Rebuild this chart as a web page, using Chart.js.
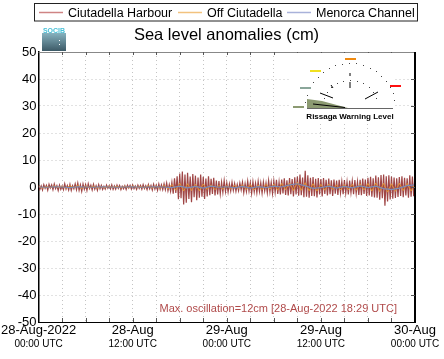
<!DOCTYPE html>
<html><head><meta charset="utf-8">
<script src="https://cdn.jsdelivr.net/npm/chart.js@4"></script>
<style>html,body{margin:0;padding:0;background:#fff;}canvas{display:block;}</style>
</head><body>
<canvas id="c" width="444" height="359"></canvas>
<script>
// ---------- data ----------
const seriesNames = ['Ciutadella Harbour', 'Off Ciutadella', 'Menorca Channel'];
const tickHours = [0, 12, 24, 36, 48];
const dateLabels = ['28-Aug-2022', '28-Aug', '29-Aug', '29-Aug', '30-Aug'];
const timeLabels = ['00:00 UTC', '12:00 UTC', '00:00 UTC', '12:00 UTC', '00:00 UTC'];
const titleText = 'Sea level anomalies (cm)';
const noteText = 'Max. oscillation=12cm [28-Aug-2022 18:29 UTC]';
const insetText = 'Rissaga Warning Level';

// hours since 28-Aug-2022 00:00 UTC, sampled every 10 min (one row = one hour)
const harbourStep = 1 / 6;
const harbour = [
 0.7,-0.9,0.4,-1.1,0.9,-0.5,  0.6,-1.2,1.0,-0.4,0.8,-1.0,  1.1,-0.6,0.5,-1.3,0.7,-0.9,
 0.4,-1.0,1.2,-0.8,0.6,-1.1,  1.0,-1.3,0.5,-0.7,1.2,-1.0,  1.5,-1.2,0.8,-1.6,1.1,-0.9,
 0.9,-1.3,1.2,-0.6,0.7,-1.1,  1.0,-0.8,0.5,-1.2,0.9,-0.7,  0.6,-0.9,0.3,-0.8,0.7,-0.5,
 0.5,-0.7,0.8,-0.9,0.4,-0.8,  0.7,-0.5,0.6,-1.0,0.3,-0.7,  0.5,-0.9,0.7,-0.4,0.6,-0.8,
 0.8,-0.6,0.4,-0.9,0.7,-0.5,  0.6,-0.8,0.9,-0.6,0.5,-1.0,  0.9,-0.7,0.6,-1.1,1.0,-0.8,
 0.7,-1.2,1.1,-0.9,0.8,-1.0,  1.2,-1.0,1.5,-1.4,0.9,-1.6,  1.8,-2.5,3.2,-2.2,4.0,-4.5,
 5.0,-4.2,5.7,-6.5,4.6,-5.8,  5.3,-4.4,3.9,-5.6,4.8,-3.8,  4.2,-4.9,3.5,-4.0,4.6,-3.6,
 3.8,-4.4,3.1,-3.5,4.0,-3.0,  3.0,-2.6,3.4,-3.1,2.4,-2.8,  2.2,-2.6,1.8,-2.0,2.4,-1.7,
 1.6,-1.9,1.2,-1.5,1.8,-1.3,  1.3,-1.6,1.0,-1.4,1.5,-1.1,  1.8,-2.1,1.3,-1.7,2.2,-1.5,
 1.6,-2.4,2.0,-1.8,1.4,-2.2,  2.1,-1.7,1.6,-2.3,1.9,-1.5,  1.5,-2.2,2.4,-1.9,1.7,-2.5,
 2.3,-2.0,2.7,-2.6,1.9,-2.8,  2.8,-2.4,3.2,-2.9,2.5,-3.1,  3.3,-2.7,2.9,-3.5,3.6,-2.8,
 3.9,-3.2,4.6,-3.0,3.5,-3.8,  6.0,-3.6,4.3,-4.0,3.4,-3.3,  3.7,-3.4,3.0,-3.9,3.3,-2.8,
 2.9,-3.5,3.3,-2.6,2.7,-3.1,  3.1,-2.7,2.5,-3.3,2.8,-2.5,  2.4,-2.9,2.7,-2.2,2.1,-2.7,
 2.6,-2.3,2.0,-2.8,2.4,-2.1,  2.2,-2.7,2.6,-2.4,2.0,-2.9,  2.7,-3.0,3.1,-2.6,2.8,-3.3,
 3.4,-3.1,3.8,-3.6,3.2,-3.9,  4.2,-4.0,3.6,-4.7,4.4,-4.2,  4.6,-6.9,4.0,-5.4,4.3,-4.6,
 3.9,-4.3,3.5,-4.1,3.2,-3.7,  3.7,-3.3,4.0,-3.8,3.4,-3.1,  3.2,-4.0,4.3,-3.6,3.9,-3.4,
 4.1
];
// sampled every 30 min
const offStep = 0.5;
const offCiutadella = [
 0.3,-0.4, 0.2,-0.3, 0.4,-0.2, 0.3,-0.5, 0.5,-0.3, 0.6,-0.6, 0.4,-0.3, 0.3,-0.4,
 0.2,-0.3, 0.3,-0.2, 0.2,-0.4, 0.3,-0.3, 0.4,-0.2, 0.2,-0.3, 0.5,-0.4, 0.4,-0.5,
 0.6,-0.7, 0.9,-1.2, 1.4,-1.5, 1.2,-1.3, 1.0,-1.4, 1.1,-0.9, 0.8,-1.0, 0.6,-0.8,
 0.5,-0.7, 0.6,-0.5, 0.8,-0.9, 0.9,-1.1, 0.7,-1.0, 1.0,-0.8, 1.1,-1.2, 1.3,-1.0,
 1.5,-1.3, 1.8,-1.2, 1.6,-1.4, 1.2,-1.5, 1.0,-1.2, 1.1,-0.9, 0.8,-1.1, 0.9,-1.0,
 1.0,-1.2, 1.2,-1.1, 1.3,-1.5, 1.5,-1.7, 1.4,-1.9, 1.2,-1.6, 1.4,-1.3, 1.3,-1.5,
 1.2
];
// sampled every hour
const channelStep = 1;
const menorcaChannel = [
 0.0,-0.1,0.1,0.0,-0.2,0.1,0.0,-0.1,0.1,0.0,-0.1,0.0,0.1,-0.1,0.0,0.1,0.0,
 -0.2,0.3,-0.3,0.2,-0.4,0.3,-0.1,
 0.1,-0.3,0.2,-0.4,0.1,-0.2,0.3,0.0,
 0.8,1.2,0.4,-0.5,-0.2,0.3,-0.4,
 0.2,-0.3,0.4,-0.2,0.3,-0.6,-1.0,-0.4,0.5,0.8
];
const yMin = -50, yMax = 50, yStep = 10, xStep = 3;

// ---------- styling ----------
const FONT = "'Liberation Sans', Arial, Helvetica, sans-serif";
const lineColors = ['rgba(135,22,22,0.8)', '#e39232', '#7c8cb6'];
const legendColors = ['#cf8484', '#f2c27e', '#a9b2da'];
const toPts = (arr, step) => arr.map((v, i) => ({x: i * step, y: v}));

const decor = {
  id: 'decor',
  afterDraw(chart) {
    const ctx = chart.ctx, ca = chart.chartArea;
    const xs = chart.scales.x, ys = chart.scales.y;
    ctx.save();
    // frame: top and right
    ctx.strokeStyle = '#888'; ctx.lineWidth = 1;
    ctx.beginPath(); ctx.moveTo(ca.left, ca.top + 0.5); ctx.lineTo(ca.right, ca.top + 0.5); ctx.stroke();
    ctx.strokeStyle = '#000'; ctx.lineWidth = 2;
    ctx.beginPath(); ctx.moveTo(ca.right, ca.top); ctx.lineTo(ca.right, ca.bottom + 1); ctx.stroke();
    // inward ticks
    ctx.strokeStyle = '#555'; ctx.lineWidth = 1;
    ctx.beginPath();
    for (let h = xStep; h < 48; h += xStep) {
      const px = Math.round(xs.getPixelForValue(h)) + 0.5;
      ctx.moveTo(px, ca.bottom); ctx.lineTo(px, ca.bottom - 4);
      ctx.moveTo(px, ca.top); ctx.lineTo(px, ca.top + 3);
    }
    for (let v = yMin + yStep; v < yMax; v += yStep) {
      const py = Math.round(ys.getPixelForValue(v)) + 0.5;
      ctx.moveTo(ca.right, py); ctx.lineTo(ca.right - 4, py);
    }
    ctx.stroke();

    // legend box
    ctx.strokeStyle = '#222'; ctx.lineWidth = 1;
    ctx.strokeRect(34.5, 3.5, 383, 17.5);
    const legX = [39, 178, 287];
    ctx.font = '12.5px ' + FONT; ctx.fillStyle = '#000'; ctx.textBaseline = 'alphabetic'; ctx.textAlign = 'left';
    seriesNames.forEach((n, i) => {
      ctx.strokeStyle = legendColors[i]; ctx.lineWidth = 1.5;
      ctx.beginPath(); ctx.moveTo(legX[i], 12.5); ctx.lineTo(legX[i] + 24, 12.5); ctx.stroke();
      ctx.fillText(n, legX[i] + 29, 17);
    });
    // title
    ctx.font = '16.5px ' + FONT; ctx.textAlign = 'center';
    ctx.fillText(titleText, 226.5, 40);
    // logo
    const g = ctx.createLinearGradient(0, 33, 0, 51);
    g.addColorStop(0, '#86b2bf'); g.addColorStop(1, '#3c5966');
    ctx.fillStyle = g; ctx.fillRect(42, 33, 24, 18);
    ctx.fillStyle = '#fff'; ctx.fillRect(59, 40, 1, 1); ctx.fillRect(59, 44, 1, 1);
    ctx.fillStyle = '#48bfd6'; ctx.font = 'bold 7px ' + FONT; ctx.textAlign = 'center';
    ctx.fillText('SOCIB', 54, 33);

    // inset (rissaga warning level)
    ctx.fillStyle = '#fff'; ctx.fillRect(291, 53, 104, 69);
    const cx = 350, cy = 108;
    ctx.fillStyle = '#444';
    for (let a = 8; a <= 172; a += 9) {
      const t = a * Math.PI / 180;
      ctx.fillRect(Math.round(cx - 45 * Math.cos(t)), Math.round(cy - 45 * Math.sin(t)), 1, 1);
    }
    for (let a = 20; a <= 160; a += 14) {
      const t = a * Math.PI / 180;
      ctx.fillRect(Math.round(cx - 28 * Math.cos(t)), Math.round(cy - 28 * Math.sin(t)), 1, 1);
    }
    ctx.fillStyle = '#8c9a72';
    ctx.beginPath(); ctx.moveTo(307, 99); ctx.lineTo(322, 101); ctx.lineTo(348, 108); ctx.lineTo(307, 108); ctx.closePath(); ctx.fill();
    ctx.strokeStyle = '#000'; ctx.lineWidth = 1;
    ctx.beginPath();
    ctx.moveTo(313, 104); ctx.lineTo(345, 107.5);
    ctx.moveTo(320, 93); ctx.lineTo(333, 98);
    ctx.moveTo(365, 99); ctx.lineTo(378, 92);
    ctx.moveTo(350, 73); ctx.lineTo(350, 76);
    ctx.moveTo(350, 82); ctx.lineTo(350, 88);
    ctx.moveTo(331, 85); ctx.lineTo(333, 88);
    ctx.stroke();
    ctx.strokeStyle = '#666';
    ctx.beginPath(); ctx.moveTo(307, 108.5); ctx.lineTo(393, 108.5); ctx.stroke();
    const marks = [[345, 58, '#f08a10'], [310, 70, '#f0e020'], [300, 87, '#8aa69a'], [390, 85, '#ff1010'], [293, 106, '#8c9a72']];
    marks.forEach(([mx, my, c]) => { ctx.fillStyle = c; ctx.fillRect(mx, my, 11, 2); });
    ctx.fillStyle = '#000'; ctx.font = 'bold 8px ' + FONT; ctx.textAlign = 'center';
    ctx.fillText(insetText, 350, 118.5);

    // note
    ctx.fillStyle = '#b04a4a'; ctx.font = '11px ' + FONT; ctx.textAlign = 'right';
    ctx.fillText(noteText, 397, 311.5);
    ctx.restore();
  }
};

const labelFor = (arr) => (v) => { const k = tickHours.indexOf(v); return k >= 0 ? arr[k] : ''; };

new Chart(document.getElementById('c'), {
  type: 'line',
  data: {
    datasets: [
      {label: seriesNames[0], data: toPts(harbour, harbourStep), borderColor: lineColors[0], borderWidth: 1.2, pointRadius: 0, order: 3},
      {label: seriesNames[1], data: toPts(offCiutadella, offStep), borderColor: lineColors[1], borderWidth: 1, pointRadius: 0, order: 2},
      {label: seriesNames[2], data: toPts(menorcaChannel, channelStep), borderColor: lineColors[2], borderWidth: 1.2, pointRadius: 0, order: 1}
    ]
  },
  options: {
    responsive: false, animation: false, devicePixelRatio: 1,
    layout: {padding: {top: 52, right: 29, left: 0, bottom: 0}},
    plugins: {legend: {display: false}, title: {display: false}, tooltip: {enabled: false}},
    scales: {
      x: {
        type: 'linear', position: 'bottom', min: 0, max: 48, weight: 0,
        afterBuildTicks: (s) => { s.ticks = []; for (let h = 0; h <= 48; h += xStep) s.ticks.push({value: h}); },
        afterFit: (s) => { s.height = 16; },
        ticks: {autoSkip: false, maxRotation: 0, color: '#000', font: {family: FONT, size: 13}, padding: 1, callback: labelFor(dateLabels)},
        grid: {color: '#c4c4c4', lineWidth: 1, drawTicks: false},
        border: {display: true, color: '#000', width: 1, dash: [1, 3]}
      },
      x2: {
        type: 'linear', position: 'bottom', min: 0, max: 48, weight: 1,
        afterBuildTicks: (s) => { s.ticks = tickHours.map(h => ({value: h})); },
        afterFit: (s) => { s.height = 21; },
        ticks: {autoSkip: false, maxRotation: 0, color: '#000', font: {family: FONT, size: 10}, padding: 0, callback: labelFor(timeLabels)},
        grid: {display: false, drawTicks: false},
        border: {display: false}
      },
      y: {
        type: 'linear', min: yMin, max: yMax,
        afterFit: (s) => { s.width = 38; },
        ticks: {stepSize: yStep, color: '#000', font: {family: FONT, size: 13}, padding: 2},
        grid: {color: '#c4c4c4', lineWidth: 1, drawTicks: false},
        border: {display: true, color: '#000', width: 1.5, dash: [1, 3]}
      }
    }
  },
  plugins: [decor]
});
</script>
</body></html>
